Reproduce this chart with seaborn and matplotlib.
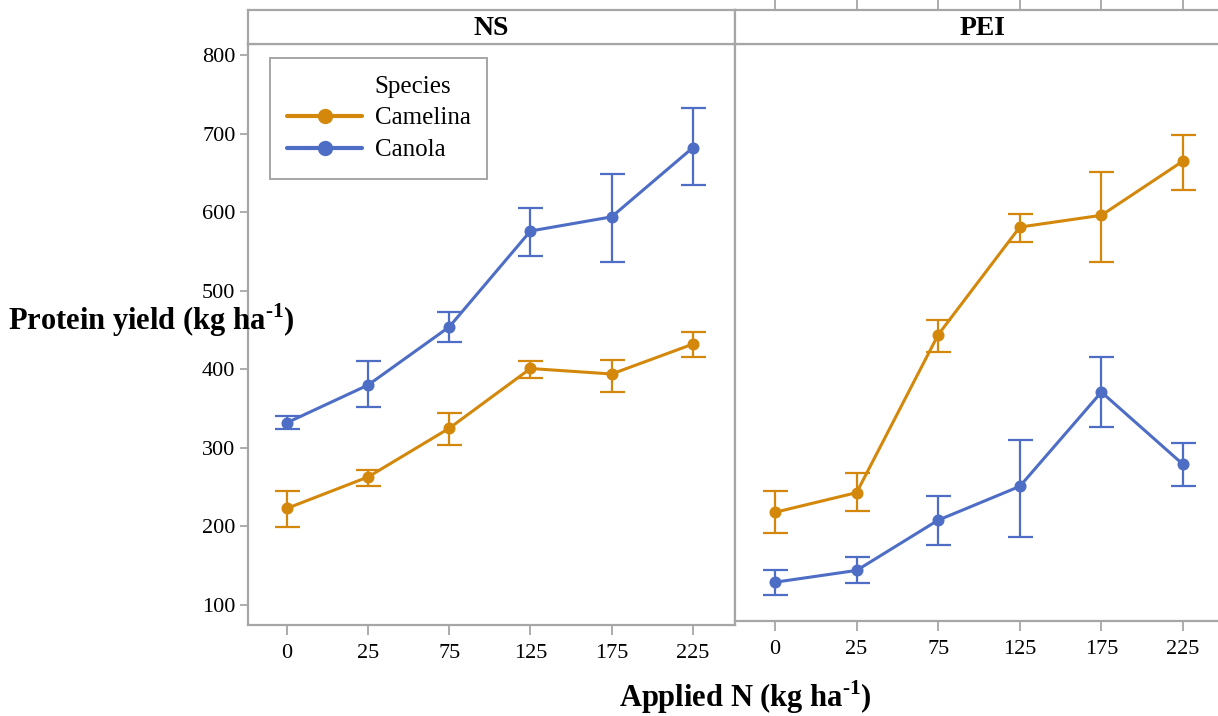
import pandas as pd
import seaborn as sns
import matplotlib.pyplot as plt
from matplotlib.lines import Line2D

# Data
n_rates = ["0", "25", "75", "125", "175", "225"]
species = ["Camelina", "Canola"]

ns_camelina = [223, 263, 325, 401, 394, 432]
ns_camelina_lo = [199, 252, 304, 389, 371, 415]
ns_camelina_hi = [245, 272, 344, 410, 412, 447]
ns_canola = [332, 380, 454, 576, 594, 682]
ns_canola_lo = [324, 352, 435, 544, 537, 634]
ns_canola_hi = [340, 410, 473, 605, 648, 733]

pei_camelina = [218, 243, 444, 581, 596, 665]
pei_camelina_lo = [191, 219, 422, 562, 537, 628]
pei_camelina_hi = [245, 268, 463, 598, 651, 698]
pei_canola = [129, 144, 208, 251, 371, 279]
pei_canola_lo = [113, 128, 176, 187, 326, 252]
pei_canola_hi = [145, 161, 239, 310, 415, 306]

y_ticks = [100, 200, 300, 400, 500, 600, 700, 800]

colors = {"Camelina": "#D4880B", "Canola": "#4E6DC5"}
spine_col = "#A6A6A6"

sns.set_theme(style="white")
plt.rcParams["font.family"] = ["Liberation Serif", "DejaVu Serif"]
plt.rcParams["mathtext.fontset"] = "custom"
plt.rcParams["mathtext.rm"] = "Liberation Serif"
plt.rcParams["mathtext.bf"] = "Liberation Serif:bold"
plt.rcParams["text.color"] = "black"
plt.rcParams["xtick.labelcolor"] = "black"
plt.rcParams["ytick.labelcolor"] = "black"


def make_df(site, cam, cam_lo, cam_hi, can, can_lo, can_hi):
    rows = []
    for sp, m, lo, hi in [("Camelina", cam, cam_lo, cam_hi), ("Canola", can, can_lo, can_hi)]:
        for n, v, l, h in zip(n_rates, m, lo, hi):
            rows.append({"Site": site, "N": n, "Species": sp, "Yield": v, "lo": l, "hi": h})
    return pd.DataFrame(rows)


df_ns = make_df("NS", ns_camelina, ns_camelina_lo, ns_camelina_hi,
                ns_canola, ns_canola_lo, ns_canola_hi)
df_pei = make_df("PEI", pei_camelina, pei_camelina_lo, pei_camelina_hi,
                 pei_canola, pei_canola_lo, pei_canola_hi)

W, H = 1218, 716
fig = plt.figure(figsize=(W / 100, H / 100), dpi=100)


def box(x0, y0, x1, y1):
    return [x0 / W, 1 - y1 / H, (x1 - x0) / W, (y1 - y0) / H]


ax_ns = fig.add_axes(box(248, 44, 735, 625))
ax_pei = fig.add_axes(box(735, 44, 1230, 621))
strip_ns = fig.add_axes(box(248, 10, 735, 44))
strip_pei = fig.add_axes(box(735, 10, 1230, 44))

px = 0.7857  # pixels per unit on y
for ax, df, xlim, ybot in [(ax_ns, df_ns, (-0.48, 5.52), 625),
                           (ax_pei, df_pei, (-0.49, 5.576), 621)]:
    sns.pointplot(data=df, x="N", y="Yield", hue="Species", order=n_rates,
                  hue_order=species, palette=colors, markers="o",
                  markersize=7, linewidth=2.2, errorbar=None, legend=False, ax=ax)
    for sp in species:
        d = df[df["Species"] == sp]
        ax.errorbar(range(len(n_rates)), d["Yield"],
                    yerr=[d["Yield"] - d["lo"], d["hi"] - d["Yield"]],
                    fmt="none", ecolor=colors[sp], elinewidth=1.6,
                    capsize=9, capthick=1.6, zorder=1)
    ax.set_xlim(*xlim)
    ax.set_ylim(100 - (ybot - 605) / px, 800 + 11 / px)
    ax.set_xlabel("")
    ax.set_ylabel("")
    for s in ax.spines.values():
        s.set_color(spine_col)
        s.set_linewidth(1.6)
    ax.tick_params(axis="x", bottom=True, length=7, width=1.3, color=spine_col,
                   labelsize=16, pad=7)

ax_ns.set_yticks(y_ticks)
ax_ns.tick_params(axis="y", left=True, length=6, width=1.3, color=spine_col,
                  labelsize=16, pad=3)
ax_pei.set_yticks([])
ax_pei.spines["right"].set_visible(False)

for st, ax, label in [(strip_ns, ax_ns, "NS"), (strip_pei, ax_pei, "PEI")]:
    st.set_xlim(ax.get_xlim())
    st.set_yticks([])
    for s in st.spines.values():
        s.set_color(spine_col)
        s.set_linewidth(1.6)
    st.text(0.5, 0.45, label, transform=st.transAxes, ha="center", va="center",
            fontsize=20, fontweight="bold")
strip_ns.set_xticks([])
strip_pei.spines["right"].set_visible(False)
strip_pei.xaxis.tick_top()
strip_pei.set_xticks(range(len(n_rates)))
strip_pei.set_xticklabels([])
strip_pei.tick_params(axis="x", top=True, length=7, width=1.3, color=spine_col)

handles = [Line2D([], [], color="none")]
labels = ["Species"]
for sp in species:
    handles.append(Line2D([], [], color=colors[sp], lw=3, marker="o", markersize=10))
    labels.append(sp)
leg = ax_ns.legend(handles, labels, loc="upper left",
                   bbox_to_anchor=(270 / W, 1 - 58 / H), bbox_transform=fig.transFigure,
                   borderaxespad=0, fontsize=18, frameon=True, fancybox=False,
                   edgecolor=spine_col, framealpha=1, handlelength=3.0,
                   handletextpad=0.5, labelspacing=0.38, borderpad=0.68)
leg.get_frame().set_linewidth(1.4)

fig.text(8 / W, 1 - 320 / H, r"Protein yield (kg ha$^{\mathbf{‐1}}$)",
         ha="left", va="center", fontsize=22, fontweight="bold")
fig.text(745 / W, 1 - 697 / H, r"Applied N (kg ha$^{\mathbf{‐1}}$)",
         ha="center", va="center", fontsize=22, fontweight="bold")

fig.savefig("out.png", dpi=100)
plt.close(fig)
